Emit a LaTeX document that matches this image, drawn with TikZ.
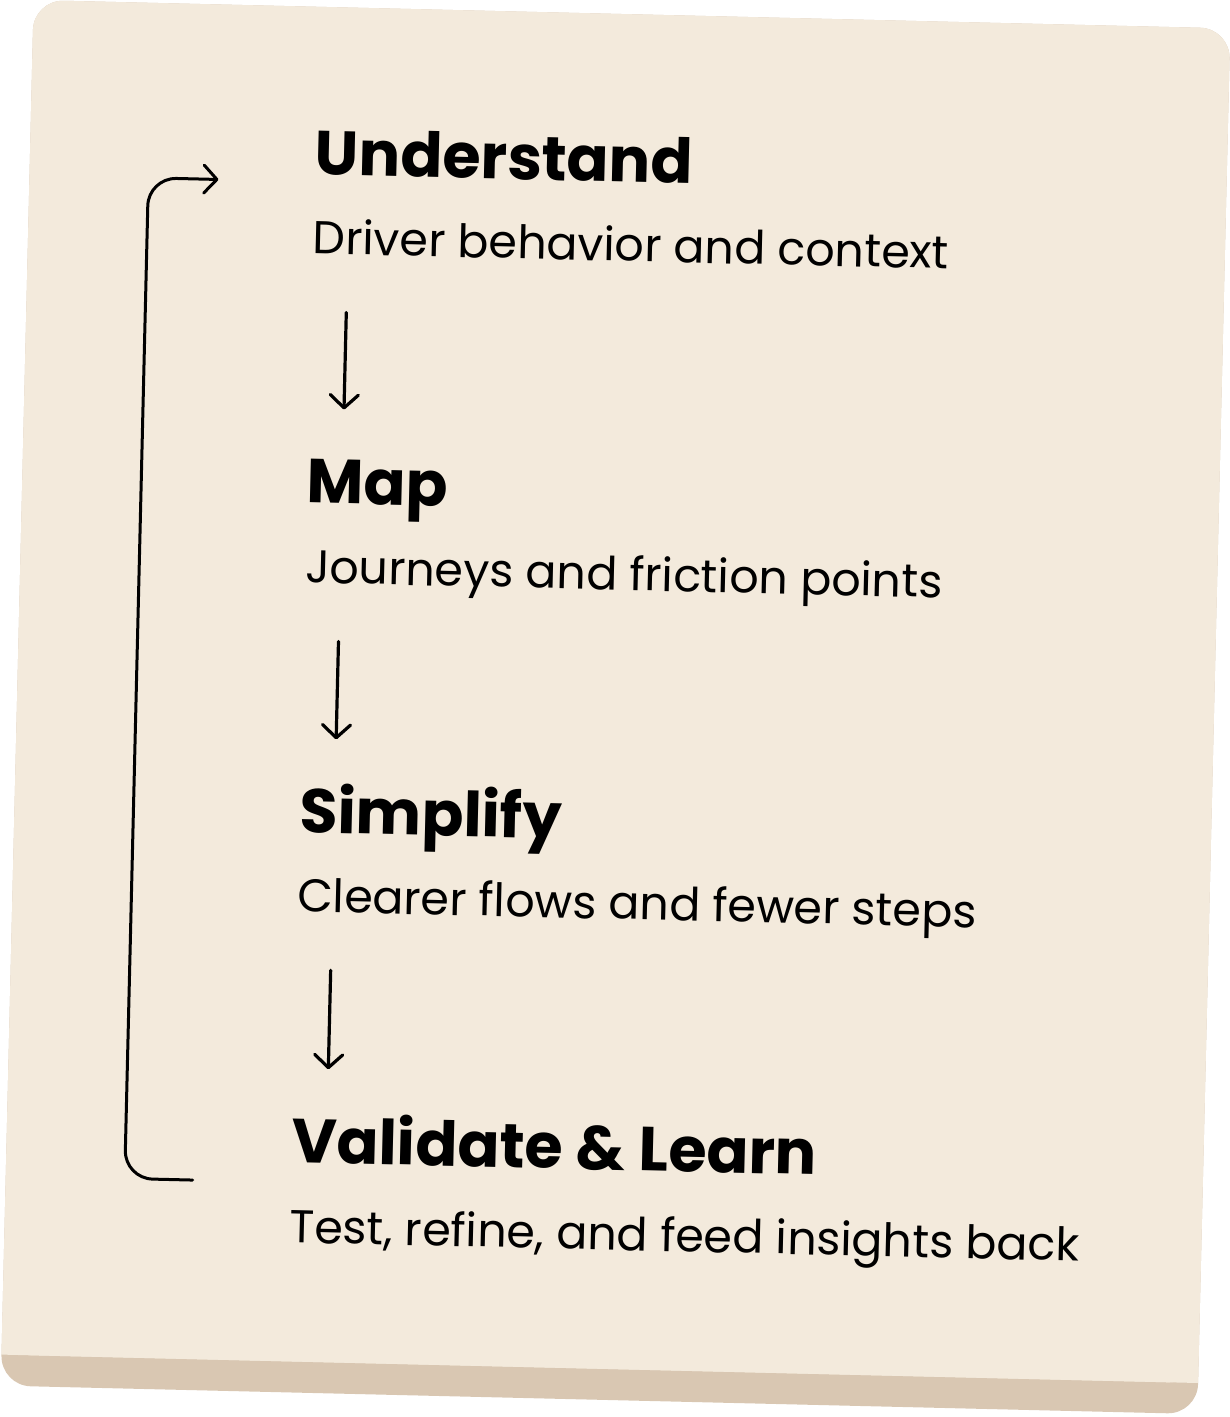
\documentclass[tikz,border=0pt]{standalone}
\usepackage{fontspec}
\setmainfont{Poppins}
\usetikzlibrary{arrows.meta}
\definecolor{cardface}{HTML}{F3EADC}
\definecolor{cardshade}{HTML}{D9C7B2}
\begin{document}
\begin{tikzpicture}[
    x=1pt, y=-1pt,
    steptitle/.style={anchor=base west, inner sep=0pt, font=\fontsize{62}{74}\selectfont\bfseries},
    stepnote/.style={anchor=base west, inner sep=0pt, font=\fontsize{46}{55}\selectfont},
    flow/.style={-{Straight Barb[length=13pt, width=28pt, round]}, line width=3.2pt, line cap=round},
    loopback/.style={flow, line width=3pt, rounded corners=28pt}
]
\useasboundingbox (0,0) rectangle (1230,1417);

\begin{scope}[rotate around={-1.36:(615,707)}, transform shape]

% Card with its darker bottom edge
\fill[cardshade, rounded corners=30pt] (17,14) rectangle (1214,1400);
\fill[cardface, rounded corners=30pt] (17,14) rectangle (1214,1369);
\fill[cardface] (17,1330) rectangle (1214,1369);

% Steps
\node[steptitle] (understand) at (302,182) {Understand};
\node[stepnote] (understandnote) at (302,261) {Driver behavior and context};

\node[steptitle] (map) at (302,510) {Map};
\node[stepnote] (mapnote) at (302,590) {Journeys and friction points};

\node[steptitle] (simplify) at (302,840) {Simplify};
\node[stepnote] (simplifynote) at (302,919) {Clearer flows and fewer steps};

\node[steptitle] (validate) at (302,1170) {Validate \& Learn};
\node[stepnote] (validatenote) at (302,1250) {Test, refine, and feed insights back};

% Arrows
\draw[flow] ([shift={(35,58)}]understandnote.base west) -- ([shift={(35,-94)}]map.base west);
\draw[flow] ([shift={(35,58)}]mapnote.base west) -- ([shift={(35,-94)}]simplify.base west);
\draw[flow] ([shift={(35,58)}]simplifynote.base west) -- ([shift={(35,-94)}]validate.base west);

% Loop back to the start
\draw[loopback] ([shift={(-98,20)}]validate.base west) -| ([shift={(-166,7)}]understand.base west) -- ([shift={(-96,7)}]understand.base west);

\end{scope}
\end{tikzpicture}
\end{document}
